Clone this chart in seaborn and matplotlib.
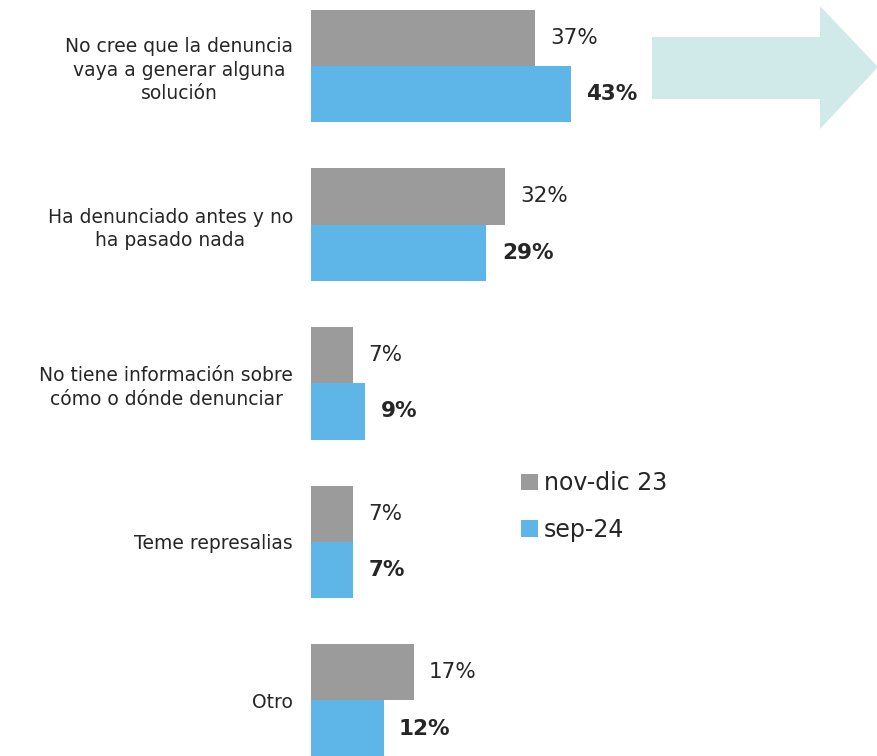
import pandas as pd
import matplotlib.pyplot as plt
import seaborn as sns
from matplotlib.patches import Polygon

### DATA ###

CATEGORIES = ["No cree que la denuncia\nvaya a generar alguna\nsolución",
              "Ha denunciado antes y no\nha pasado nada",
              "No tiene información sobre\ncómo o dónde denunciar",
              "Teme represalias",
              "Otro"]
PERIODS = ["nov-dic 23", "sep-24"]
NOV_DIC_23 = [37, 32, 7, 7, 17]
SEP_24 = [43, 29, 9, 7, 12]

COLORS = ["#9B9B9B", "#5DB5E8"]

df = pd.DataFrame({
    "motivo": CATEGORIES * 2,
    "periodo": [PERIODS[0]] * len(CATEGORIES) + [PERIODS[1]] * len(CATEGORIES),
    "pct": NOV_DIC_23 + SEP_24,
})

### PLOT ###

sns.set_theme(style="white")
plt.rcParams["font.family"] = ["DejaVu Sans"]

W, H = 878, 756
fig = plt.figure(figsize=(W / 100, H / 100), dpi=100)
ax = fig.add_axes([311 / W, 0, 1 - 311 / W, 1])

sns.barplot(data=df, y="motivo", x="pct", hue="periodo", palette=COLORS,
            orient="h", width=0.71, gap=0, saturation=1, linewidth=0, ax=ax)

ax.set_xlim(0, 93.7)
ax.set_ylim(4.35, -0.416)
ax.set_xlabel("")
ax.set_ylabel("")
ax.set_xticks([])
sns.despine(ax=ax, left=True, bottom=True)
ax.tick_params(axis="y", length=0, pad=13, labelsize=13.5, labelcolor="#262626")
for lbl in ax.get_yticklabels():
    lbl.set_multialignment("center")
    lbl.set_linespacing(1.3)

for i, cont in enumerate(ax.containers):
    ax.bar_label(cont, fmt="%d%%", padding=11, fontsize=15.5, color="#262626",
                 fontweight="bold" if i == 1 else "normal")

leg = ax.legend(loc="upper left", bbox_to_anchor=((500 - 311) / 567, 1 - 450 / H),
                frameon=False, fontsize=17, handlelength=0.7, handleheight=0.7,
                handletextpad=0.25, labelspacing=0.95)
for t in leg.get_texts():
    t.set_color("#262626")

# decorative arrow top right
pts = [(652, 37), (820, 37), (820, 6), (878, 67), (820, 129), (820, 99), (652, 99)]
arrow = Polygon([(x / W, 1 - y / H) for x, y in pts], closed=True,
                transform=fig.transFigure, facecolor="#D0E9E9", edgecolor="none")
fig.patches.append(arrow)

fig.savefig("out.png", dpi=100)
